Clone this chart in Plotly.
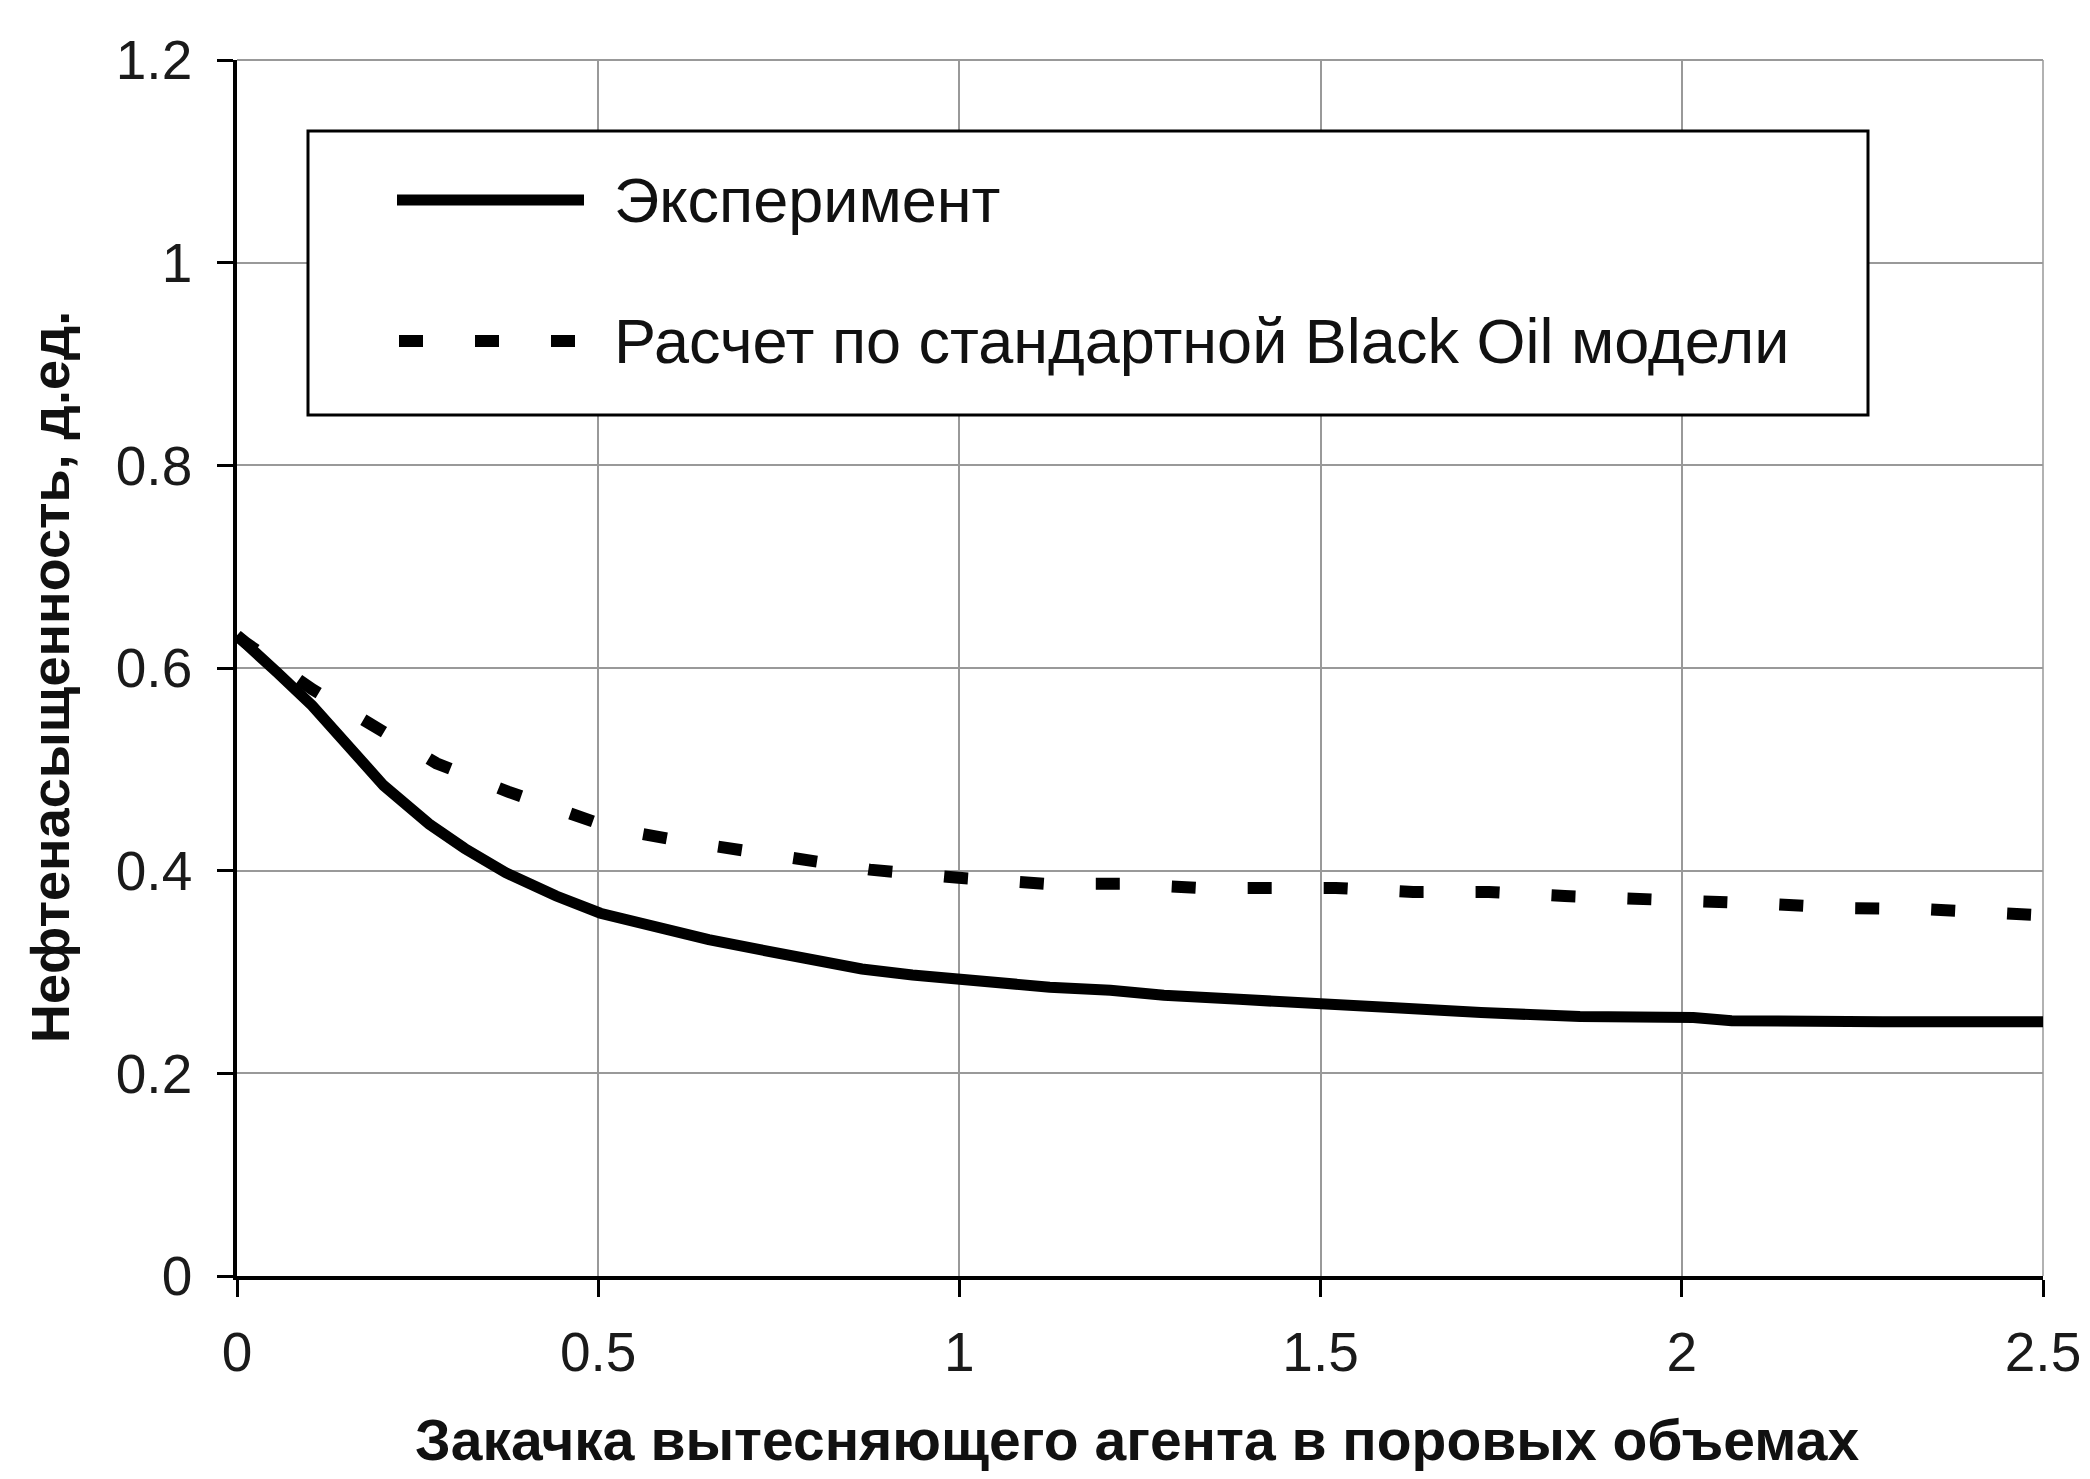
import plotly.graph_objects as go

# ---- data ----
series_names = ["Эксперимент", "Расчет по стандартной Black Oil модели"]

exp_x = [0.0, 0.005, 0.055, 0.104, 0.16, 0.203, 0.266, 0.315, 0.372, 0.442, 0.503,
         0.583, 0.653, 0.724, 0.794, 0.865, 0.935, 1.0, 1.125, 1.209, 1.283, 1.387,
         1.492, 1.597, 1.722, 1.859, 2.016, 2.069, 2.278, 2.5]
exp_y = [0.632, 0.629, 0.596, 0.563, 0.518, 0.484, 0.446, 0.422, 0.398, 0.375, 0.358,
         0.343, 0.332, 0.322, 0.312, 0.303, 0.297, 0.292, 0.285, 0.282, 0.277, 0.273,
         0.268, 0.265, 0.260, 0.256, 0.255, 0.252, 0.251, 0.251]

bo_x = [0.0, 0.012, 0.104, 0.199, 0.276, 0.375, 0.474, 0.523, 0.626, 0.731, 0.77,
        0.876, 0.999, 1.12, 1.227, 1.332, 1.44, 1.521, 1.628, 1.733, 1.838, 1.943,
        2.018, 2.127, 2.231, 2.336, 2.446, 2.5]
bo_y = [0.632, 0.625, 0.579, 0.537, 0.506, 0.478, 0.455, 0.441, 0.428, 0.416, 0.412,
        0.401, 0.393, 0.387, 0.387, 0.383, 0.383, 0.383, 0.379, 0.379, 0.375, 0.371,
        0.370, 0.367, 0.363, 0.362, 0.357, 0.356]

x_ticks = [0, 0.5, 1, 1.5, 2, 2.5]
x_tick_labels = ["0", "0.5", "1", "1.5", "2", "2.5"]
y_ticks = [0, 0.2, 0.4, 0.6, 0.8, 1.0, 1.2]
y_tick_labels = ["0", "0.2", "0.4", "0.6", "0.8", "1", "1.2"]

x_title = "Закачка вытесняющего агента в поровых объемах"
y_title = "Нефтенасыщенность, д.ед."

# ---- layout geometry (page pixels; the page body adds an 8 px margin) ----
OFF = 8
W, H = 2090 - 2 * OFF, 1479 - 2 * OFF
PLOT_L, PLOT_R, PLOT_T, PLOT_B = 237, 2043, 60, 1276   # page px of plot area
ML, MT = PLOT_L - OFF, PLOT_T - OFF
MR, MB = W - (PLOT_R - OFF), H - (PLOT_B - OFF)
PW, PH = W - ML - MR, H - MT - MB
GRID = "#999999"
TICK_FONT = dict(family="Liberation Sans, Arial, sans-serif", size=55, color="#1a1a1a")
TITLE_FAMILY = "Liberation Sans Narrow, Arial Narrow, Liberation Sans, sans-serif"
solid_style = dict(color="black", width=11)
dash_style = dict(color="black", width=12, dash="24px,52px")


def px_to_paper_x(px):
    return (px - PLOT_L) / PW


def px_to_paper_y(py):
    return (PLOT_B - py) / PH


fig = go.Figure()
fig.add_trace(go.Scatter(x=exp_x, y=exp_y, mode="lines", name=series_names[0],
                         line=solid_style, hoverinfo="skip"))
fig.add_trace(go.Scatter(x=bo_x, y=bo_y, mode="lines", name=series_names[1],
                         line=dash_style, hoverinfo="skip"))

# custom legend (long sample lines, as in the reference)
shapes = [
    dict(type="line", xref="paper", yref="paper", x0=1, x1=1, y0=0, y1=1,
         line=dict(color=GRID, width=1.5), layer="below"),
    dict(type="line", xref="paper", yref="paper", x0=0, x1=1, y0=1, y1=1,
         line=dict(color=GRID, width=2), layer="below"),
    dict(type="rect", xref="paper", yref="paper",
         x0=px_to_paper_x(308), x1=px_to_paper_x(1868),
         y0=px_to_paper_y(415), y1=px_to_paper_y(131),
         line=dict(color="black", width=3), fillcolor="white", layer="above"),
    dict(type="line", xref="paper", yref="paper",
         x0=px_to_paper_x(397), x1=px_to_paper_x(584),
         y0=px_to_paper_y(200), y1=px_to_paper_y(200),
         line=solid_style, layer="above"),
    dict(type="line", xref="paper", yref="paper",
         x0=px_to_paper_x(399), x1=px_to_paper_x(580),
         y0=px_to_paper_y(341), y1=px_to_paper_y(341),
         line=dash_style, layer="above"),
]

LEG_FONT = dict(family="Liberation Sans, Arial, sans-serif", size=63, color="#111")
annotations = [
    dict(text=series_names[0], xref="paper", yref="paper",
         x=px_to_paper_x(612), y=px_to_paper_y(200), xanchor="left", yanchor="middle",
         showarrow=False, font=LEG_FONT),
    dict(text=series_names[1], xref="paper", yref="paper",
         x=px_to_paper_x(612), y=px_to_paper_y(341), xanchor="left", yanchor="middle",
         showarrow=False, font=LEG_FONT),
    dict(text="<b>" + x_title + "</b>", xref="paper", yref="paper",
         x=px_to_paper_x(1137), y=px_to_paper_y(1440), xanchor="center", yanchor="middle",
         showarrow=False, font=dict(family=TITLE_FAMILY, size=57, color="#111")),
    dict(text="<b>" + y_title + "</b>", xref="paper", yref="paper", textangle=-90,
         x=px_to_paper_x(50), y=px_to_paper_y(677), xanchor="center", yanchor="middle",
         showarrow=False, font=dict(family=TITLE_FAMILY, size=54, color="#111")),
]

fig.update_layout(
    width=W, height=H,
    margin=dict(l=ML, r=MR, t=MT, b=MB, pad=0, autoexpand=False),
    paper_bgcolor="white", plot_bgcolor="white",
    showlegend=False,
    shapes=shapes, annotations=annotations,
)
fig.update_xaxes(range=[0, 2.5], tickvals=x_ticks, ticktext=x_tick_labels,
                 showgrid=True, gridcolor=GRID, gridwidth=1.5, zeroline=False,
                 showline=True, linecolor="black", linewidth=3.5,
                 ticks="outside", ticklen=17, tickwidth=2.5, tickcolor="black",
                 tickfont=TICK_FONT, ticklabelstandoff=8, ticklabeloverflow="allow",
                 automargin=False)
fig.update_yaxes(range=[0, 1.2], tickvals=y_ticks, ticktext=y_tick_labels,
                 showgrid=True, gridcolor=GRID, gridwidth=1.5, zeroline=False,
                 showline=True, linecolor="black", linewidth=3.5,
                 ticks="outside", ticklen=16, tickwidth=2.5, tickcolor="black",
                 tickfont=TICK_FONT, ticklabelstandoff=14, ticklabeloverflow="allow",
                 automargin=False)

fig.write_html("out.html")
